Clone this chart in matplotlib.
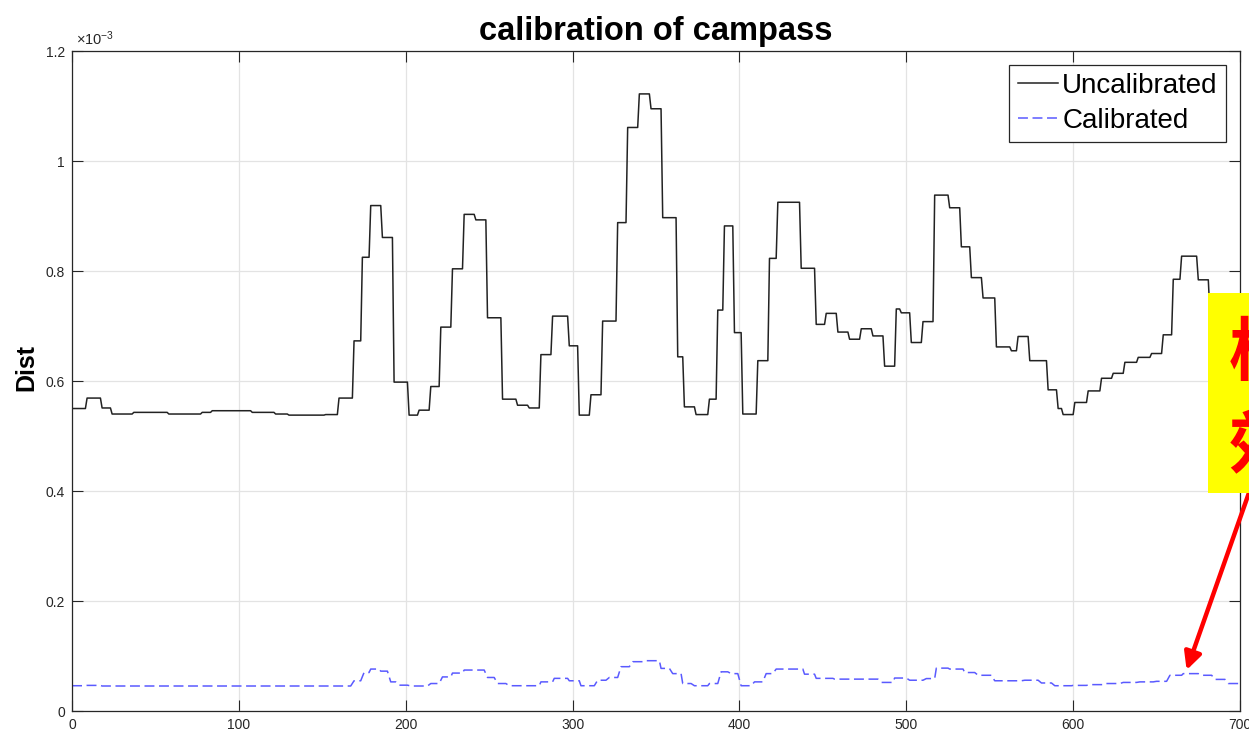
import matplotlib
matplotlib.use("Agg")
import matplotlib.pyplot as plt
import matplotlib.ticker as ticker
from matplotlib.patches import Rectangle

plt.rcParams['font.family'] = ['Liberation Sans', 'Noto Sans CJK SC', 'DejaVu Sans']
plt.rcParams['mathtext.default'] = 'regular'

#----------------------------------------------------------------------------------------------------------------------------------------
# step plateaus: start sample, end sample, value (x1e-3)
uncal_start = [0, 9, 18, 24, 37, 58, 78, 84, 108, 122, 130, 152, 160, 169, 174, 179, 186, 193, 202, 208,
               215, 221, 228, 235, 242, 249, 258, 267, 274, 281, 288, 298, 304, 311, 318, 327, 333, 340, 347, 354,
               363, 367, 374, 382, 387, 391, 397, 402, 411, 418, 423, 437, 446, 452, 459, 466, 473, 480, 487, 494,
               497, 503, 510, 517, 526, 533, 539, 546, 554, 563, 567, 574, 585, 591, 594, 601, 609, 617, 624, 631,
               639, 647, 654, 660, 665, 675, 682, 691]
uncal_end = [8, 17, 23, 36, 57, 77, 83, 107, 121, 129, 151, 159, 168, 173, 178, 185, 192, 201, 207, 214,
             220, 227, 234, 241, 248, 257, 266, 273, 280, 287, 297, 303, 310, 317, 326, 332, 339, 346, 353, 362,
             366, 373, 381, 386, 390, 396, 401, 410, 417, 422, 436, 445, 451, 458, 465, 472, 479, 486, 493, 496,
             502, 509, 516, 525, 532, 538, 545, 553, 562, 566, 573, 584, 590, 593, 600, 608, 616, 623, 630, 638,
             646, 653, 659, 664, 674, 681, 690, 700]
uncal_val = [0.550, 0.569, 0.551, 0.540, 0.543, 0.540, 0.543, 0.546, 0.543, 0.540, 0.538, 0.539, 0.569, 0.673,
             0.825, 0.919, 0.861, 0.598, 0.538, 0.547, 0.590, 0.698, 0.804, 0.903, 0.893, 0.715, 0.567, 0.556,
             0.551, 0.648, 0.718, 0.664, 0.538, 0.575, 0.709, 0.888, 1.061, 1.122, 1.095, 0.897, 0.644, 0.553,
             0.539, 0.567, 0.729, 0.882, 0.688, 0.540, 0.637, 0.823, 0.925, 0.805, 0.703, 0.723, 0.689, 0.676,
             0.695, 0.682, 0.627, 0.731, 0.724, 0.670, 0.708, 0.938, 0.915, 0.844, 0.788, 0.751, 0.662, 0.655,
             0.681, 0.637, 0.584, 0.550, 0.539, 0.561, 0.582, 0.605, 0.614, 0.634, 0.643, 0.650, 0.684, 0.785,
             0.827, 0.784, 0.720, 0.690]

cal_start = [0, 9, 18, 169, 175, 179, 185, 191, 196, 203, 215, 222, 228, 235, 249, 255, 262, 281, 289, 298,
             305, 315, 322, 329, 336, 344, 353, 360, 366, 373, 382, 389, 395, 401, 409, 416, 422, 439, 446, 457,
             485, 493, 502, 512, 518, 526, 535, 543, 553, 571, 581, 589, 600, 610, 619, 630, 640, 650, 658, 666,
             677, 685, 693]
cal_end = [8, 17, 167, 173, 178, 184, 189, 194, 201, 213, 220, 227, 234, 247, 253, 260, 280, 288, 297, 304,
           313, 320, 327, 334, 343, 352, 358, 365, 371, 381, 387, 393, 399, 407, 414, 420, 438, 445, 456, 483,
           492, 500, 510, 517, 525, 534, 541, 551, 569, 579, 587, 599, 608, 618, 628, 638, 648, 656, 665, 675,
           683, 691, 700]
cal_val = [0.046, 0.0466, 0.0455, 0.055, 0.070, 0.0763, 0.0725, 0.053, 0.047, 0.0455, 0.050, 0.062, 0.069,
           0.0745, 0.061, 0.050, 0.046, 0.053, 0.0594, 0.055, 0.046, 0.056, 0.061, 0.0806, 0.0897, 0.0915,
           0.0775, 0.068, 0.050, 0.046, 0.050, 0.0713, 0.068, 0.046, 0.053, 0.068, 0.0763, 0.067, 0.0594,
           0.058, 0.052, 0.060, 0.056, 0.059, 0.078, 0.0763, 0.070, 0.065, 0.055, 0.056, 0.051, 0.046, 0.0466,
           0.048, 0.050, 0.052, 0.053, 0.054, 0.065, 0.068, 0.065, 0.0575, 0.050]

x_ticks = [0, 100, 200, 300, 400, 500, 600, 700]
y_ticks = [0, 0.2, 0.4, 0.6, 0.8, 1.0, 1.2]

#----------------------------------------------------------------------------------------------------------------------------------------
def plateaus(starts, ends, vals):
    #each plateau gives two vertices, the line joins them in order
    xs, ys = [], []
    for s, e, v in zip(starts, ends, vals):
        xs += [s, e]
        ys += [v * 1e-3, v * 1e-3]
    return xs, ys

x_u, y_u = plateaus(uncal_start, uncal_end, uncal_val)
x_c, y_c = plateaus(cal_start, cal_end, cal_val)

fig = plt.figure(figsize=(12.49, 7.34), dpi=100)
ax = fig.add_axes([0.0577, 0.0313, 0.9351, 0.8992])

ax.plot(x_u, y_u, color='#222222', lw=1.1, label='Uncalibrated')
ax.plot(x_c, y_c, color='#5a5aff', lw=1.1, linestyle=(0, (6.5, 3)), label='Calibrated')

ax.set_xlim(0, 700)
ax.set_ylim(0, 1.2e-3)
ax.set_xticks(x_ticks)
ax.set_yticks([v * 1e-3 for v in y_ticks])
ax.yaxis.set_major_formatter(ticker.FuncFormatter(lambda v, p: f"{v * 1e3:g}"))
ax.tick_params(direction='in', length=8, width=0.8, colors='#262626', labelsize=10,
               top=True, right=True, pad=5)
ax.grid(True, color='#e3e3e3', lw=0.9)
ax.set_axisbelow(True)
for sp in ax.spines.values():
    sp.set_color('#262626')
    sp.set_linewidth(0.9)

ax.text(0.003, 1.004, r'$\times10^{-3}$', transform=ax.transAxes, fontsize=10.5,
        color='#262626', ha='left', va='bottom')

ax.set_title('calibration of campass', fontsize=23.5, fontweight='bold', pad=8)
ax.set_ylabel('Dist', fontsize=18, fontweight='bold')
ax.yaxis.set_label_coords(-0.029, 0.52)

leg = ax.legend(loc='upper right', bbox_to_anchor=(0.988, 0.979), borderaxespad=0,
                fontsize=20, frameon=True, fancybox=False, edgecolor='#262626',
                framealpha=1, handlelength=1.45, handletextpad=0.15, borderpad=0.3,
                labelspacing=0.32)
leg.get_frame().set_linewidth(0.9)

#annotation pasted over the right edge
ax.annotate('', xy=(668, 0.0745e-3), xycoords='data',
            xytext=(1.0064, 0.3597), textcoords='figure fraction',
            arrowprops=dict(arrowstyle='-|>', lw=3.2, color='red', mutation_scale=26,
                            shrinkA=0, shrinkB=0),
            annotation_clip=False, zorder=9)
fig.add_artist(Rectangle((0.967, 0.3283), 0.06, 0.2725, transform=fig.transFigure,
                         facecolor='#ffff00', edgecolor='none', zorder=10))
fig.text(0.984, 0.453, '校准后\n效果明显', color='red', fontsize=50, fontweight='bold',
         family=['Noto Sans CJK SC', 'DejaVu Sans'], ha='left', va='center',
         linespacing=1.4, zorder=11)

fig.savefig('out.png', dpi=100)
